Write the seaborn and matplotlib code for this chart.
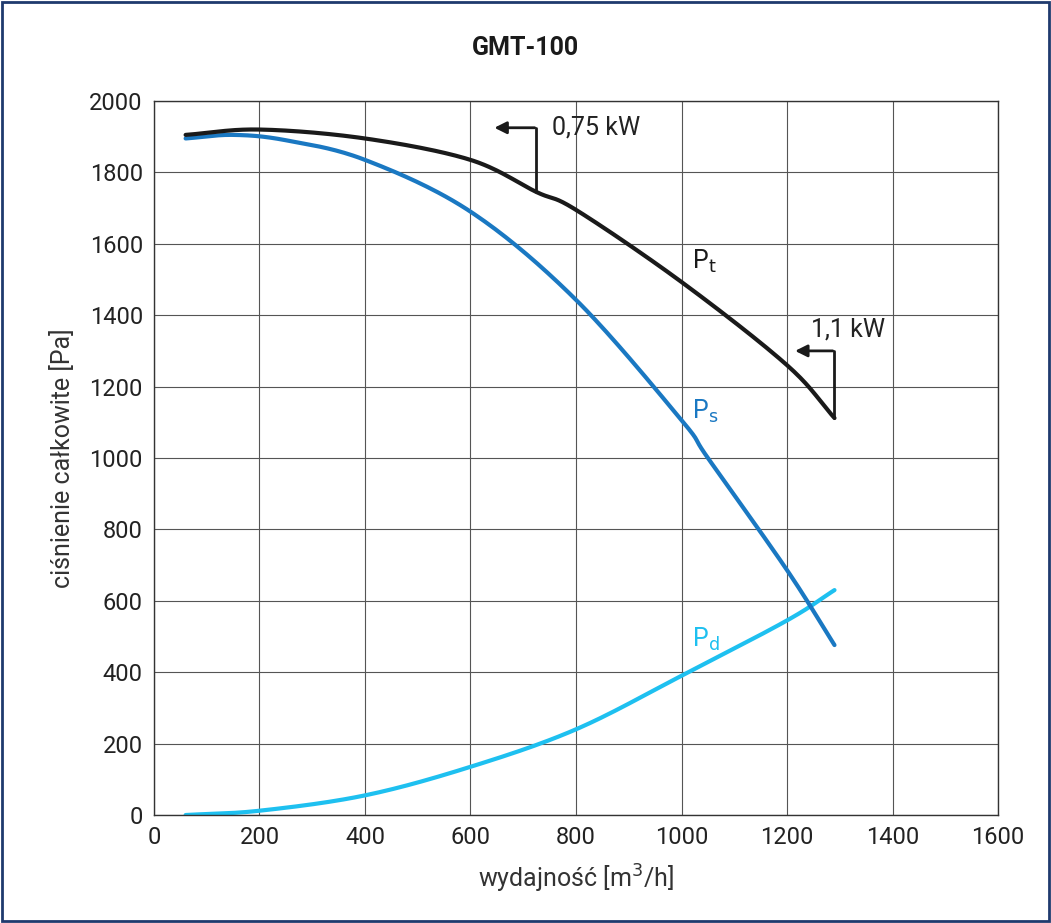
import matplotlib
matplotlib.use("Agg")
import matplotlib.pyplot as plt
import seaborn as sns
import numpy as np
from matplotlib.patches import Rectangle

q_pt = [60, 200, 400, 600, 725, 800, 1000, 1200, 1290]
pt = [1905, 1920, 1895, 1835, 1745, 1695, 1493, 1260, 1112]
q_ps = [60, 150, 250, 400, 600, 800, 1000, 1050, 1200, 1290]
ps = [1895, 1905, 1890, 1835, 1690, 1443, 1106, 1000, 686, 476]
q_pd = [60, 200, 400, 600, 800, 1000, 1200, 1290]
pd_ = [0, 12, 55, 135, 240, 390, 545, 630]
x_ticks = [0, 200, 400, 600, 800, 1000, 1200, 1400, 1600]
y_ticks = [0, 200, 400, 600, 800, 1000, 1200, 1400, 1600, 1800, 2000]


def smooth(x, y, n=30):
    x = np.asarray(x, float); y = np.asarray(y, float)
    px = np.concatenate([[2 * x[0] - x[1]], x, [2 * x[-1] - x[-2]]])
    py = np.concatenate([[2 * y[0] - y[1]], y, [2 * y[-1] - y[-2]]])
    ox, oy = [], []
    t = np.linspace(0, 1, n, endpoint=False)
    for i in range(1, len(px) - 2):
        for arr, out in ((px, ox), (py, oy)):
            p0, p1, p2, p3 = arr[i - 1:i + 3]
            out.extend(0.5 * (2 * p1 + (-p0 + p2) * t + (2 * p0 - 5 * p1 + 4 * p2 - p3) * t ** 2
                              + (-p0 + 3 * p1 - 3 * p2 + p3) * t ** 3))
    ox.append(x[-1]); oy.append(y[-1])
    return np.array(ox), np.array(oy)


sns.set_theme(style="white")
plt.rcParams['font.family'] = ['Roboto', 'DejaVu Sans']

fig = plt.figure(figsize=(10.51, 9.23), dpi=100)
fig.patches.append(Rectangle((0.002, 0.002), 0.996, 0.996, transform=fig.transFigure,
                             fill=False, edgecolor="#1f3a6e", lw=2))
ax = fig.add_axes([0.1465, 0.117, 0.8031, 0.7736])

for qx, py, c in ((q_pd, pd_, "#1ec0f0"), (q_ps, ps, "#1a78c2"), (q_pt, pt, "#1a1a1a")):
    xs, ys = smooth(qx, py)
    sns.lineplot(x=xs, y=ys, ax=ax, color=c, lw=3, sort=False, estimator=None)

ax.set_xlim(0, 1600); ax.set_ylim(0, 2000)
ax.set_xticks(x_ticks); ax.set_yticks(y_ticks)
ax.tick_params(labelsize=17, colors="#222222", length=0, pad=8)
ax.grid(True, color="#555555", lw=0.8)
for s in ax.spines.values():
    s.set_color("#333333"); s.set_linewidth(1)
ax.set_xlabel("wydajność [m$^3$/h]", fontsize=18, color="#333333", labelpad=10)
ax.set_ylabel("ciśnienie całkowite [Pa]", fontsize=18, color="#333333", labelpad=10)
fig.text(0.5, 0.94, "GMT-100", ha="center", fontsize=18, fontweight="bold", color="#1a1a1a")

# power annotations
ax.plot([725, 725], [1745, 1925], color="#1a1a1a", lw=2)
ax.annotate("", xy=(640, 1925), xytext=(727, 1925),
            arrowprops=dict(arrowstyle="-|>", color="#1a1a1a", lw=2, mutation_scale=18))
ax.text(755, 1925, "0,75 kW", fontsize=18, va="center", color="#222222")
ax.plot([1290, 1290], [1112, 1300], color="#1a1a1a", lw=2)
ax.annotate("", xy=(1210, 1300), xytext=(1292, 1300),
            arrowprops=dict(arrowstyle="-|>", color="#1a1a1a", lw=2, mutation_scale=18))
ax.text(1245, 1360, "1,1 kW", fontsize=18, va="center", color="#222222")

ax.text(1020, 1530, "P$_\\mathrm{t}$", fontsize=18, color="#1a1a1a")
ax.text(1020, 1110, "P$_\\mathrm{s}$", fontsize=18, color="#1a78c2")
ax.text(1020, 470, "P$_\\mathrm{d}$", fontsize=18, color="#1ec0f0")

fig.savefig("out.png", dpi=100)
